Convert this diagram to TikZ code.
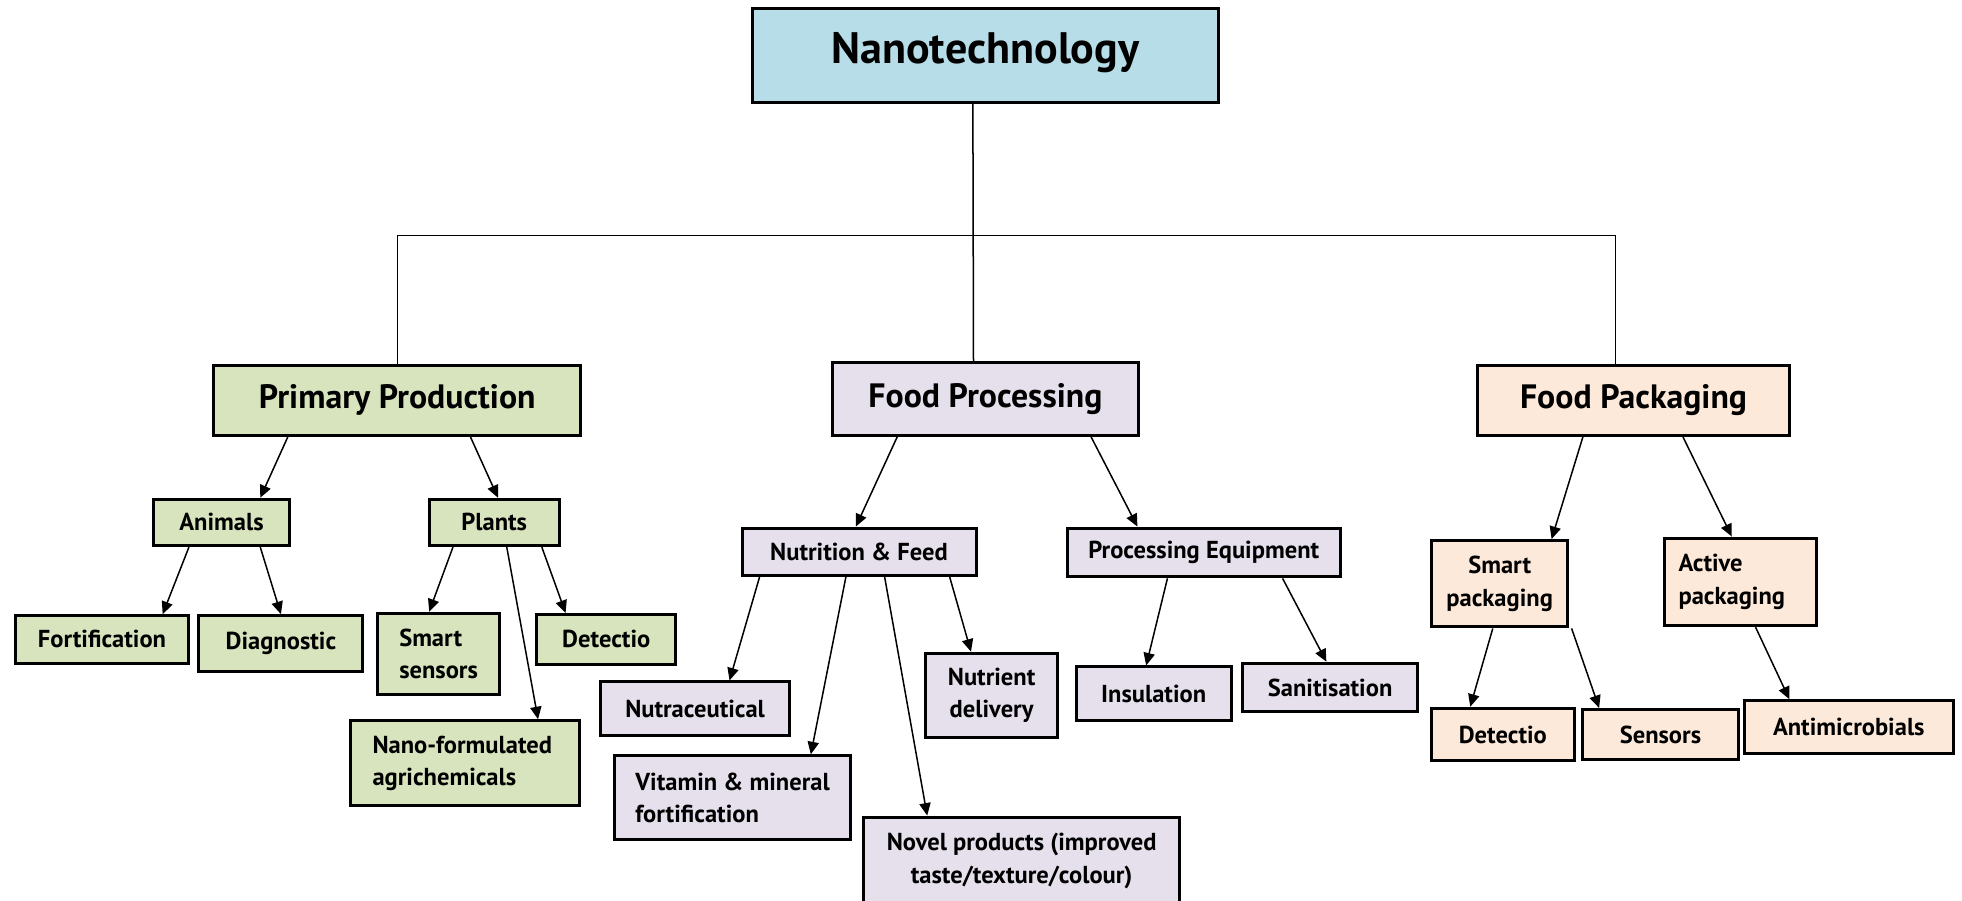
\documentclass[tikz,border=0pt]{standalone}
\usepackage{fontspec}
\setmainfont{PT Sans}
\usetikzlibrary{arrows.meta,calc}

\definecolor{topblue}{HTML}{B7DDE8}
\definecolor{leafgreen}{HTML}{D7E4BD}
\definecolor{lavender}{HTML}{E5E0EC}
\definecolor{peach}{HTML}{FDE9D9}

% box from its corner coordinates: name, style, x1, y1, x2, y2, text
\newcommand\boxnode[7]{%
  \pgfmathsetmacro\bxw{(#5-#3)*0.5}%
  \pgfmathsetmacro\bxh{(#6-#4)*0.5}%
  \node[#2, minimum width=\bxw pt, minimum height=\bxh pt] (#1)
    at ({(#3+#5)/2},{(#4+#6)/2}) {#7};}

% arrow from a point on the lower edge of one box to a point on the upper edge of another
\newcommand\link[4]{%
  \draw[arr] ($(#1.south)+(#2,0)$) -- ($(#3.north)+(#4,0)$);}

% single-line labels sit a little below the middle of their box
\newcommand\low[1]{\raisebox{-1.2pt}{#1}}

\tikzset{
  box/.style={draw, line width=1.2pt, inner sep=2pt, align=center, font=\bfseries},
  topbox/.style={box, fill=topblue, font=\fontsize{17.6}{21}\selectfont\bfseries},
  headbox/.style={box, font=\fontsize{13.5}{16}\selectfont\bfseries},
  small/.style={box, font=\fontsize{9.8}{13}\selectfont\bfseries},
  green/.style={fill=leafgreen},
  lilac/.style={fill=lavender},
  orange/.style={fill=peach},
  conn/.style={line width=0.6pt},
  arr/.style={conn, -{Triangle[length=5pt,width=4.5pt]}},
}

\begin{document}
\begin{tikzpicture}[x=0.5pt,y=-0.5pt]
\useasboundingbox (0,0) rectangle (1568,720);
\clip (0,0) rectangle (1568,720);

% root and first level
\boxnode{nano}{topbox}{601}{7}{974}{82}{\raisebox{6pt}{Nanotechnology}}
\boxnode{pp}{headbox,green}{171}{292}{464}{348}{Primary Production}
\boxnode{fp}{headbox,lilac}{665}{290}{910}{348}{Food Processing}
\boxnode{fpk}{headbox,orange}{1181}{292}{1430}{348}{Food Packaging}

% primary production branch
\boxnode{an}{small,green}{123}{399}{231}{436}{\low{Animals}}
\boxnode{pl}{small,green}{343}{399}{447}{436}{\low{Plants}}
\boxnode{fo}{small,green}{12}{492}{151}{530}{\low{Fortification}}
\boxnode{di}{small,green}{159}{492}{290}{537}{\low{Diagnostic}}
\boxnode{ss}{small,green,align=left}{302}{490}{399}{555}{Smart\\sensors}
\boxnode{de}{small,green}{429}{491}{540}{531}{\low{Detectio}}
\boxnode{na}{small,green,align=left}{280}{576}{463}{644}{Nano-formulated\hspace*{2pt}\\agrichemicals}

% food processing branch
\boxnode{nf}{small,lilac}{593}{422}{780}{460}{\low{Nutrition \& Feed}}
\boxnode{pe}{small,lilac}{853}{422}{1071}{461}{\low{Processing Equipment}}
\boxnode{nu}{small,lilac}{480}{545}{631}{588}{\low{Nutraceutical}}
\boxnode{vm}{small,lilac,align=left}{491}{604}{680}{671}{Vitamin \& mineral\\fortification}
\boxnode{nv}{small,lilac}{690}{653}{943}{723}{Novel products (improved\\taste/texture/colour)}
\boxnode{nd}{small,lilac}{740}{522}{845}{589}{Nutrient\\delivery}
\boxnode{in}{small,lilac}{860}{533}{984}{576}{\low{Insulation}}
\boxnode{sa}{small,lilac}{993}{530}{1133}{569}{\low{Sanitisation}}

% food packaging branch
\boxnode{sp}{small,orange}{1144}{432}{1253}{501}{Smart\\packaging}
\boxnode{ap}{small,orange,align=left}{1330}{430}{1452}{500}{Active\\packaging\hspace*{7pt}}
\boxnode{dt}{small,orange}{1144}{566}{1258}{608}{\low{Detectio}}
\boxnode{se}{small,orange}{1265}{567}{1389}{607}{\low{Sensors}}
\boxnode{am}{small,orange}{1394}{560}{1561}{602}{\low{Antimicrobials}}

% tree connectors from the root
\coordinate (bar) at (0,188);
\draw[conn] ($(nano.south)+(-10,0)$) -- ($(fp.north)+(-9.5,0)$);
\draw[conn] (pp.north) -- (pp.north |- bar) -- ($(fpk.north |- bar)+(-14.5,0)$) -- ($(fpk.north)+(-14.5,0)$);

% arrows
\link{pp}{-87.5}{an}{31}
\link{pp}{58.5}{pl}{3}
\link{an}{-26}{fo}{48.5}
\link{an}{31}{di}{0}
\link{pl}{-33}{ss}{-7.5}
\link{pl}{10}{na}{58.5}
\link{pl}{38}{de}{-32.5}

\link{fp}{-70.5}{nf}{-2.5}
\link{fp}{84.5}{pe}{-53}
\link{nf}{-79.5}{nu}{27.5}
\link{nf}{-10.5}{vm}{62.5}
\link{nf}{20.5}{nv}{-75.5}
\link{nf}{72.5}{nd}{-16.5}
\link{pe}{-29}{in}{-6}
\link{pe}{63}{sa}{-3}

\link{fpk}{-40.5}{sp}{41.5}
\link{fpk}{39.5}{ap}{-7}
\link{sp}{-5.5}{dt}{-26}
\link{sp}{57.5}{se}{-49}
\link{ap}{12}{am}{-47.5}
\end{tikzpicture}
\end{document}
